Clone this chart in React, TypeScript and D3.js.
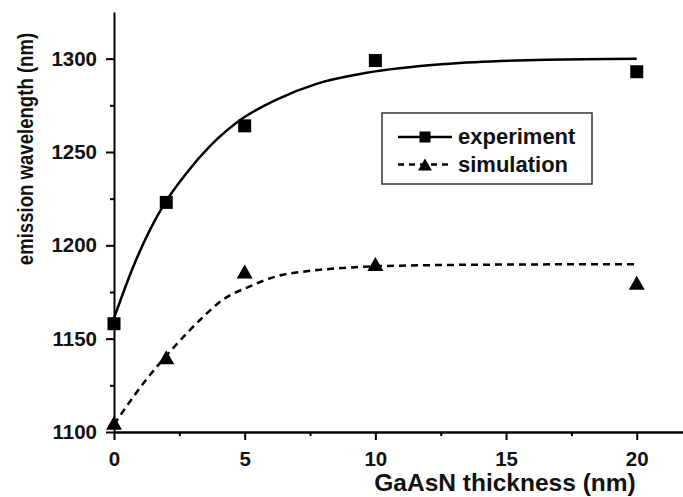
import React, { useEffect, useRef } from 'react';
import * as d3 from 'd3';

// measured points
const thickness = [0, 2, 5, 10, 20];
const experiment = [1158, 1223, 1264, 1299, 1293];
const simulation = [1105, 1140, 1186, 1190, 1180];

// fitted curves
const expFitX = [0, 0.74, 1.38, 1.95, 2.78, 3.67, 4.95, 6.22, 7.75, 9.67, 12.73, 16.55, 20];
const expFitY = [1161, 1188.7, 1208.4, 1222.7, 1238.8, 1253.1, 1268.3, 1278.1, 1286.5, 1292.4, 1297.2, 1299.4, 1299.9];
const simFitX = [0, 1.12, 2.33, 3.29, 4.18, 5.2, 6.22, 7.37, 8.77, 10.94, 15, 20];
const simFitY = [1104, 1126, 1146, 1160, 1171, 1178, 1183.4, 1186.1, 1187.9, 1189.1, 1189.7, 1189.9];

const xTicks = [0, 5, 10, 15, 20];
const xMinorTicks = [2.5, 7.5, 12.5, 17.5];
const yTicks = [1100, 1150, 1200, 1250, 1300];
const yMinorTicks = [1125, 1175, 1225, 1275];

const FONT = "'Liberation Sans', Arial, Helvetica, sans-serif";

const App = () => {
  const svgRef = useRef<SVGSVGElement>(null);

  useEffect(() => {
    const svg = d3.select(svgRef.current);
    svg.selectAll('*').remove();

    const x = d3.scaleLinear().domain([0, 21.77]).range([114, 683]);
    const y = d3.scaleLinear().domain([1100, 1325]).range([432, 12]);

    // minor ticks
    svg
      .append('g')
      .attr('transform', `translate(0,${y(1100)})`)
      .call(d3.axisBottom(x).tickValues(xMinorTicks).tickSize(4).tickSizeOuter(0).tickFormat(() => ''))
      .call((g) => g.select('.domain').remove())
      .selectAll('line')
      .attr('stroke-width', 2);

    svg
      .append('g')
      .attr('transform', `translate(${x(0)},0)`)
      .call(d3.axisLeft(y).tickValues(yMinorTicks).tickSize(4).tickSizeOuter(0).tickFormat(() => ''))
      .call((g) => g.select('.domain').remove())
      .selectAll('line')
      .attr('stroke-width', 2);

    // x axis
    const xAxis = svg
      .append('g')
      .attr('transform', `translate(0,${y(1100)})`)
      .call(d3.axisBottom(x).tickValues(xTicks).tickSize(8).tickPadding(11).tickSizeOuter(0).tickFormat(d3.format('d')));
    xAxis.select('.domain').attr('stroke-width', 2.5);
    xAxis.selectAll('line').attr('stroke-width', 2);
    xAxis
      .selectAll('text')
      .attr('font-family', FONT)
      .attr('font-size', 20.5)
      .attr('font-weight', 'bold')
      .attr('fill', '#111');

    // y axis
    const yAxis = svg
      .append('g')
      .attr('transform', `translate(${x(0)},0)`)
      .call(d3.axisLeft(y).tickValues(yTicks).tickSize(8).tickPadding(9).tickSizeOuter(0).tickFormat(d3.format('d')));
    yAxis.select('.domain').attr('stroke-width', 2);
    yAxis.selectAll('line').attr('stroke-width', 2);
    yAxis
      .selectAll('text')
      .attr('font-family', FONT)
      .attr('font-size', 20.5)
      .attr('font-weight', 'bold')
      .attr('fill', '#111');

    // fitted curves
    const line = d3
      .line<[number, number]>()
      .x((d) => x(d[0]))
      .y((d) => y(d[1]))
      .curve(d3.curveMonotoneX);

    svg
      .append('path')
      .attr('d', line(expFitX.map((v, i) => [v, expFitY[i]] as [number, number])))
      .attr('fill', 'none')
      .attr('stroke', '#000')
      .attr('stroke-width', 2.5);

    svg
      .append('path')
      .attr('d', line(simFitX.map((v, i) => [v, simFitY[i]] as [number, number])))
      .attr('fill', 'none')
      .attr('stroke', '#000')
      .attr('stroke-width', 2.5)
      .attr('stroke-dasharray', '7,5');

    // markers
    const sq = 13;
    svg
      .selectAll('rect.exp')
      .data(thickness)
      .enter()
      .append('rect')
      .attr('class', 'exp')
      .attr('x', (d) => x(d) - sq / 2)
      .attr('y', (d, i) => y(experiment[i]) - sq / 2)
      .attr('width', sq)
      .attr('height', sq)
      .attr('fill', '#000');

    const tri = 'M0,-7L8,7L-8,7Z';
    svg
      .selectAll('path.sim')
      .data(thickness)
      .enter()
      .append('path')
      .attr('class', 'sim')
      .attr('d', tri)
      .attr('transform', (d, i) => `translate(${x(d)},${y(simulation[i])})`)
      .attr('fill', '#000');

    // legend
    const legend = svg.append('g').attr('transform', 'translate(382,113)');
    legend
      .append('rect')
      .attr('width', 210)
      .attr('height', 71)
      .attr('fill', '#fff')
      .attr('stroke', '#333')
      .attr('stroke-width', 1.5);

    const rows = [
      { label: 'experiment', dash: null, shape: 'square' },
      { label: 'simulation', dash: '6,5', shape: 'triangle' },
    ];
    rows.forEach((r, i) => {
      const cy = 24 + i * 27.5;
      legend
        .append('line')
        .attr('x1', 16)
        .attr('x2', 70)
        .attr('y1', cy)
        .attr('y2', cy)
        .attr('stroke', '#000')
        .attr('stroke-width', 2.5)
        .attr('stroke-dasharray', r.dash);
      if (r.shape === 'square') {
        legend.append('rect').attr('x', 43 - 5.5).attr('y', cy - 5.5).attr('width', 11).attr('height', 11).attr('fill', '#000');
      } else {
        legend
          .append('path')
          .attr('d', 'M0,-6L7,6L-7,6Z')
          .attr('transform', `translate(43,${cy})`)
          .attr('fill', '#000');
      }
      legend
        .append('text')
        .attr('x', 76)
        .attr('y', cy)
        .attr('dy', '0.33em')
        .attr('font-family', FONT)
        .attr('font-size', 22)
        .attr('font-weight', 'bold')
        .attr('fill', '#111')
        .text(r.label);
    });

    // axis titles
    svg
      .append('text')
      .attr('x', 505)
      .attr('y', 491)
      .attr('text-anchor', 'middle')
      .attr('font-family', FONT)
      .attr('font-size', 24.5)
      .attr('font-weight', 'bold')
      .attr('fill', '#111')
      .text('GaAsN thickness (nm)');

    // the source figure is stretched sideways, so the rotated title is a little condensed
    svg
      .append('text')
      .attr('transform', 'translate(33,149) rotate(-90) scale(0.93,1.08)')
      .attr('text-anchor', 'middle')
      .attr('font-family', FONT)
      .attr('font-size', 20)
      .attr('font-weight', 'bold')
      .attr('fill', '#111')
      .text('emission wavelength (nm)');
  }, []);

  return (
    <svg
      ref={svgRef}
      width={683}
      height={497}
      style={{ position: 'absolute', left: 0, top: 0, background: '#fff', display: 'block' }}
    />
  );
};

export default App;
